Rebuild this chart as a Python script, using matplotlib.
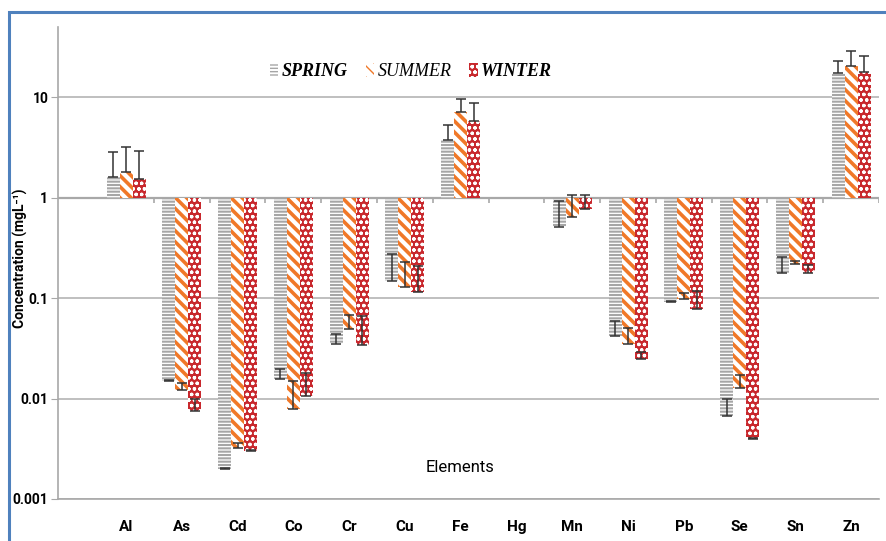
import numpy as np
import matplotlib
matplotlib.use("Agg")
import matplotlib.pyplot as plt
from matplotlib.patches import Patch, Rectangle

# values (mg/L), Hg has no data
elements = ["Al", "As", "Cd", "Co", "Cr", "Cu", "Fe", "Hg", "Mn", "Ni", "Pb", "Se", "Sn", "Zn"]
spring = [1.61, 0.0149, 0.0020, 0.0155, 0.0346, 0.148, 3.77, np.nan, 0.505, 0.0419, 0.0914, 0.00668, 0.177, 17.3]
summer = [1.82, 0.0123, 0.00323, 0.0079, 0.0497, 0.130, 7.07, np.nan, 0.635, 0.0346, 0.0973, 0.0128, 0.217, 20.3]
winter = [1.53, 0.0075, 0.00299, 0.0107, 0.0338, 0.115, 5.83, np.nan, 0.768, 0.0245, 0.0773, 0.00397, 0.177, 17.9]
# upper end of the error bars
spring_up = [2.82, 0.0152, 0.00205, 0.0198, 0.0443, 0.273, 5.32, np.nan, 0.93, 0.0591, 0.0930, 0.00995, 0.257, 23.1]
summer_up = [3.17, 0.0144, 0.00357, 0.0149, 0.0674, 0.229, 9.6, np.nan, 1.07, 0.050, 0.1135, 0.017, 0.234, 28.7]
winter_up = [2.93, 0.0098, 0.00305, 0.0181, 0.0663, 0.209, 8.7, np.nan, 1.07, 0.029, 0.1177, 0.00405, 0.212, 25.6]

seasons = ["SPRING", "SUMMER", "WINTER"]

narrow = ["Liberation Sans Narrow", "Roboto", "DejaVu Sans"]

fig = plt.figure(figsize=(8.87, 5.41), dpi=100)
ax = fig.add_axes([58 / 887, 42 / 541, 821 / 887, 472 / 541])

x = np.arange(len(elements))
w = 0.233
styles = [
    dict(facecolor="white", edgecolor="#a6a6a6", hatch="-----"),
    dict(facecolor="white", edgecolor="#f07828", hatch="\\\\\\"),
    dict(facecolor="#c8282d", edgecolor="#ffffff", hatch="ooo"),
]
hatch_lw = [1.5, 2.6, 0.9]
data = [(spring, spring_up), (summer, summer_up), (winter, winter_up)]

ax.set_yscale("log")
ax.set_ylim(0.001, 50)
ax.set_xlim(-1.22, 13.5)

for i, ((vals, ups), st) in enumerate(zip(data, styles)):
    v = np.array(vals, dtype=float)
    u = np.array(ups, dtype=float)
    ok = ~np.isnan(v)
    xs = x[ok] + (i - 1) * w
    with plt.rc_context({"hatch.linewidth": hatch_lw[i]}):
        bars = ax.bar(xs, v[ok] - 1, bottom=1, width=w, linewidth=0, zorder=3, **st)
        for b in bars:
            if hasattr(b, "set_hatch_linewidth"):
                b.set_hatch_linewidth(hatch_lw[i])
    ax.errorbar(xs, v[ok], yerr=[np.zeros(ok.sum()), u[ok] - v[ok]], fmt="none",
                ecolor="#333333", elinewidth=1.1, capsize=3.5, capthick=1.1, zorder=4)

# grid and axes
ax.grid(axis="y", which="major", color="#b4b4b4", linewidth=1.2, zorder=0)
ax.axhline(1, color="#a8a8a8", linewidth=1.6, zorder=2)
ax.vlines(np.append(x[:-1] + 0.5, x[-1] + 0.5), 1, 10 ** -0.05, color="#a8a8a8",
          linewidth=1.2, zorder=2)

for s in ["top", "right"]:
    ax.spines[s].set_visible(False)
for s in ["left", "bottom"]:
    ax.spines[s].set_color("#a8a8a8")
    ax.spines[s].set_linewidth(1.2)

ax.set_yticks([0.001, 0.01, 0.1, 1, 10])
ax.set_yticklabels(["0.001", "0.01", "0.1", "1", "10"], fontweight="bold", fontsize=10,
                   family=narrow)
ax.yaxis.set_minor_locator(matplotlib.ticker.NullLocator())
ax.tick_params(axis="y", length=5, color="#a8a8a8", pad=2)
ax.set_xticks(x)
ax.set_xticklabels(elements, fontweight="bold", fontsize=11, family=narrow)
ax.tick_params(axis="x", length=0, pad=15)

fig.text(20 / 887, 1 - 258 / 541, "Concentration (mgL\u207b\u00b9)", rotation=90,
         ha="center", va="center", fontweight="bold", fontsize=10, family=narrow)
ax.text(0.49, 0.066, "Elements", transform=ax.transAxes, ha="center", va="center",
        fontsize=12, family=narrow)

handles = [Patch(linewidth=0, **st) for st in styles]
leg = ax.legend(handles, seasons, loc="center", bbox_to_anchor=(0.43, 0.905), ncol=3,
                frameon=False, handlelength=0.45, handleheight=0.8, handletextpad=0.2,
                columnspacing=1.0, prop=dict(family="Liberation Serif", style="italic",
                                             weight="bold", size=13))
leg.get_texts()[1].set_fontweight("normal")

# blue frame around the chart
fig.patches.append(Rectangle((9 / 887, -0.05), 1.1, (541 - 12) / 541 + 0.05,
                             transform=fig.transFigure, fill=False,
                             edgecolor="#4f81bd", linewidth=2.2))

fig.savefig("out.png", dpi=100)
